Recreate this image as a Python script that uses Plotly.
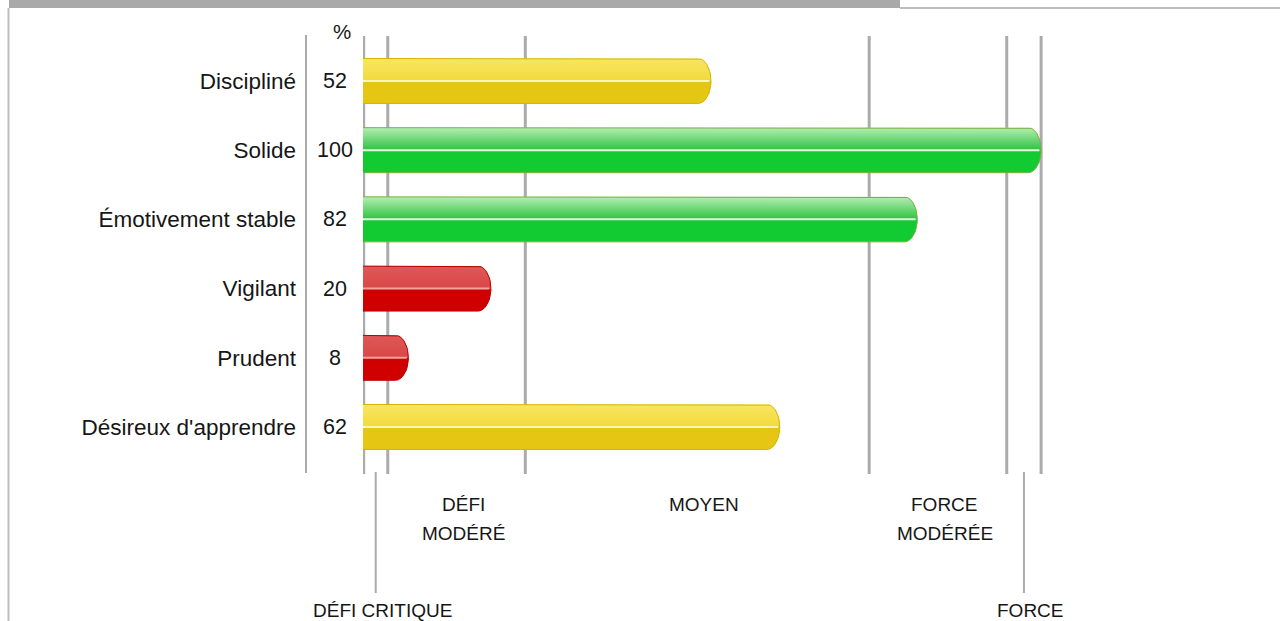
import numpy as np
import plotly.graph_objects as go

# ---------------- data ----------------
categories = ["Discipliné", "Solide", "Émotivement stable", "Vigilant", "Prudent", "Désireux d'apprendre"]
scores = [52, 100, 82, 20, 8, 62]
groups = ["moyen", "force", "force", "defi", "defi", "moyen"]
band_edges = [1.5, 5, 25, 75, 95, 100]
band_labels = ["DÉFI CRITIQUE", "DÉFI\nMODÉRÉ", "MOYEN", "FORCE\nMODÉRÉE", "FORCE"]
band_label_row = [1, 0, 0, 0, 1]
unit_label = "%"

# ---------------- style ----------------
W, H = 1280, 621
ML, MR, MT, MB = 363, 232, 36, 147
PW, PH = W - ML - MR, H - MT - MB
XMIN, XMAX = 1.4, 101.0
YRANGE = [5.68, -0.65]
FONT = "Liberation Sans, Arial, Helvetica, sans-serif"
TXT = "#161616"
GRID = "#ABABAB"

palette = {
    "moyen": dict(top0="#F2DA3E", top1="#F7E660", hi="#FFF7BE", bottom="#E4C613", line="#D6B400"),
    "force": dict(top0="#2FC23F", top1="#B4EEB4", hi="#E2FBE2", bottom="#12CB32", line="#7FAE3C"),
    "defi": dict(top0="#DA4747", top1="#DE5858", hi="#F1A3A3", bottom="#D10000", line="#B80000"),
}

x_per_px = (XMAX - XMIN) / PW
y_per_px = abs(YRANGE[0] - YRANGE[1]) / PH
half_h = 22.5 * y_per_px
rx = 13 * x_per_px


def px_x(px):
    return (px - ML) / PW


def px_y(py):
    return (MT + PH - py) / PH


fig = go.Figure()

n_arc = 14
for i, (v, g) in enumerate(zip(scores, groups)):
    c = palette[g]
    yc = i
    t_top = np.linspace(np.pi / 2, 0, n_arc)
    t_bot = np.linspace(0, -np.pi / 2, n_arc)
    ax_top = (v - rx) + rx * np.cos(t_top)
    ay_top = yc - half_h * np.sin(t_top)
    ax_bot = (v - rx) + rx * np.cos(t_bot)
    ay_bot = yc - half_h * np.sin(t_bot)
    # top half (gradient)
    fig.add_trace(go.Scatter(
        x=[0] + list(ax_top) + [0], y=[yc - half_h] + list(ay_top) + [yc],
        fill="toself", mode="none", fillcolor=c["top1"],
        fillgradient=dict(type="vertical", colorscale=[[0, c["top0"]], [1, c["top1"]]]),
        hoverinfo="skip", showlegend=False))
    # bottom half
    fig.add_trace(go.Scatter(
        x=[0] + list(ax_bot) + [0], y=[yc] + list(ay_bot) + [yc + half_h],
        fill="toself", mode="none", fillcolor=c["bottom"],
        hoverinfo="skip", showlegend=False))
    # highlight
    fig.add_trace(go.Scatter(
        x=[0, v - 0.25], y=[yc, yc], mode="lines",
        line=dict(color=c["hi"], width=2), hoverinfo="skip", showlegend=False))
    # outline
    fig.add_trace(go.Scatter(
        x=[0] + list(ax_top) + list(ax_bot[1:]) + [0],
        y=[yc - half_h] + list(ay_top) + list(ay_bot[1:]) + [yc + half_h],
        mode="lines", line=dict(color=c["line"], width=1),
        hoverinfo="skip", showlegend=False))

shapes = []
# band edge grid lines
for e in band_edges:
    shapes.append(dict(type="line", xref="x", yref="paper", x0=e, x1=e, y0=0, y1=1,
                       line=dict(color=GRID, width=3), layer="below"))
# separator between labels and values
shapes.append(dict(type="line", xref="paper", yref="paper", x0=px_x(306), x1=px_x(306),
                   y0=px_y(35), y1=px_y(473), line=dict(color=GRID, width=2), layer="below"))

centers = [(a + b) / 2 for a, b in zip(band_edges[:-1], band_edges[1:])]
for cx, row in zip(centers, band_label_row):
    if row == 1:
        shapes.append(dict(type="line", xref="x", yref="paper", x0=cx, x1=cx,
                           y0=px_y(472), y1=px_y(593), line=dict(color=GRID, width=2)))

# page frame
shapes.append(dict(type="rect", xref="paper", yref="paper", x0=px_x(9), x1=px_x(900),
                   y0=px_y(8), y1=px_y(0), fillcolor="#A9A9A9", line=dict(width=0)))
shapes.append(dict(type="line", xref="paper", yref="paper", x0=px_x(900), x1=px_x(1280),
                   y0=px_y(8), y1=px_y(8), line=dict(color="#BDBDBD", width=2)))
shapes.append(dict(type="line", xref="paper", yref="paper", x0=px_x(8.5), x1=px_x(8.5),
                   y0=px_y(8), y1=px_y(621), line=dict(color="#BDBDBD", width=2)))

annotations = []
for i, v in enumerate(scores):
    annotations.append(dict(x=px_x(335), y=i, xref="paper", yref="y", text=str(v),
                            showarrow=False, xanchor="center", yanchor="middle",
                            font=dict(size=21.5, color=TXT, family=FONT)))
annotations.append(dict(x=px_x(342), y=px_y(32), xref="paper", yref="paper", text=unit_label,
                        showarrow=False, xanchor="center", yanchor="middle",
                        font=dict(size=20.5, color=TXT, family=FONT)))
for cx, lab, row in zip(centers, band_labels, band_label_row):
    lines = lab.split("\n")
    base_py = 505 if row == 0 else 610
    for k, ln in enumerate(lines):
        annotations.append(dict(x=cx, y=px_y(base_py + 28 * k), xref="x", yref="paper",
                                text=ln, showarrow=False, xanchor="center", yanchor="middle",
                                xshift=7, font=dict(size=19, color=TXT, family=FONT)))

fig.update_layout(
    width=W, height=H,
    margin=dict(l=ML, r=MR, t=MT, b=MB, pad=0),
    paper_bgcolor="white", plot_bgcolor="white",
    xaxis=dict(range=[XMIN, XMAX], visible=False, fixedrange=True),
    yaxis=dict(range=YRANGE, tickvals=list(range(len(categories))), ticktext=categories,
               showgrid=False, zeroline=False, showline=False, ticks="",
               ticklabelstandoff=66, tickfont=dict(size=22.5, color=TXT, family=FONT),
               fixedrange=True),
    shapes=shapes, annotations=annotations,
    showlegend=False, hovermode=False,
)

fig.write_html("out.html", config={"displayModeBar": False})
